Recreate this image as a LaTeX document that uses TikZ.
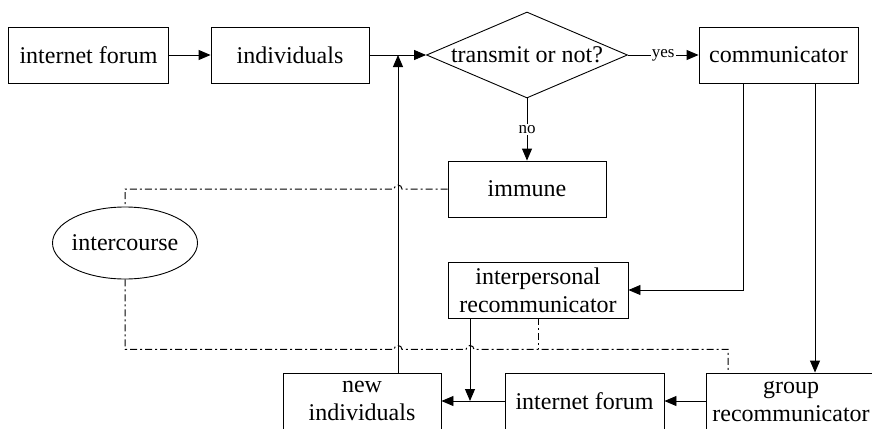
\documentclass[tikz,border=0pt]{standalone}
\usepackage{fontspec}
\setmainfont{Liberation Serif}
\usetikzlibrary{shapes.geometric,arrows.meta,calc}
\begin{document}
\begin{tikzpicture}[x=1pt,y=1pt,
 box/.style={draw,line width=0.9pt,minimum height=56pt,inner sep=0pt,align=center,font=\fontsize{24}{28}\selectfont},
 arr/.style={line width=0.9pt,-{Triangle[length=12pt,width=10pt]}},
 dd/.style={line width=1pt,dash pattern=on 7pt off 3pt on 2pt off 3pt},
 lbl/.style={fill=white,inner sep=1pt,font=\fontsize{17}{19}\selectfont}]
\useasboundingbox (0,0) rectangle (872,-428);
\fill[white] (0,0) rectangle (872,-428);
\clip (0,0) rectangle (872,-428);
% nodes
\node[box,minimum width=160pt] (forum1) at (88.5,-55) {internet forum};
\node[box,minimum width=158pt] (indiv) at (290,-55) {individuals};
\node[draw,line width=0.9pt,diamond,aspect=2.34,minimum width=201pt,minimum height=86pt,inner sep=0pt,font=\fontsize{24}{28}\selectfont] (dec) at (527,-55) {transmit or not?};
\node[box,minimum width=159pt] (comm) at (778.5,-55) {communicator};
\node[box,minimum width=158pt] (immune) at (527,-189) {immune};
\node[draw,line width=0.9pt,ellipse,minimum width=145pt,minimum height=72pt,inner xsep=-4pt,inner ysep=0pt,font=\fontsize{24}{28}\selectfont] (interc) at (125,-243) {intercourse};
\node[box,minimum width=180pt] (interp) at (538,-290) {interpersonal\\recommunicator};
\node[box,minimum width=158pt] (newind) at (362,-401) {new\\individuals};
\node[box,minimum width=159pt] (forum2) at (584.5,-401) {internet forum};
\node[box,minimum width=170pt] (group) at (791,-401) {group\\recommunicator};
% helper coordinates
\coordinate (vup) at ($(newind.north)+(36,0)$);
\coordinate (vdn) at ($(interp.south)+(-68,0)$);
\coordinate (gdd) at ($(group.north)+(-63,0)$);
\coordinate (cl) at ($(comm.south)+(-35.5,0)$);
\coordinate (cr) at ($(comm.south)+(36.5,0)$);
\coordinate (dcorner) at ($(interc.south)+(0,-70)$);
% solid connectors
\draw[arr] (forum1) -- (indiv);
\draw[arr] (indiv) -- (dec);
\draw[arr] (dec.east) -- node[lbl] {yes} (comm.west);
\draw[arr] (dec.south) -- node[lbl] {no} (immune.north);
\draw[arr] (cl) |- (interp.east);
\draw[arr] (cr) -- (cr |- group.north);
\draw[arr] (group.west) -- (forum2.east);
\draw[arr] (forum2.west) -- (newind.east);
\draw[arr] (vdn) -- (vdn |- newind.east);
\draw[arr] (vup) -- (vup |- indiv.east);
% dash-dot connectors
\draw[dd] (immune.west) -- ($(vup |- immune.west)+(4,0)$) arc[start angle=0,end angle=180,radius=4pt] -- (interc.north |- immune.west) -- (interc.north);
\draw[dd] (interc.south) -- (dcorner) -- ($(vup |- dcorner)+(-4,0)$) arc[start angle=180,end angle=0,radius=4pt] -- ($(vdn |- dcorner)+(-4,0)$) arc[start angle=180,end angle=0,radius=4pt] -- (gdd |- dcorner) -- (gdd);
\draw[dd] (interp.south) -- (interp.south |- dcorner);
\end{tikzpicture}
\end{document}
